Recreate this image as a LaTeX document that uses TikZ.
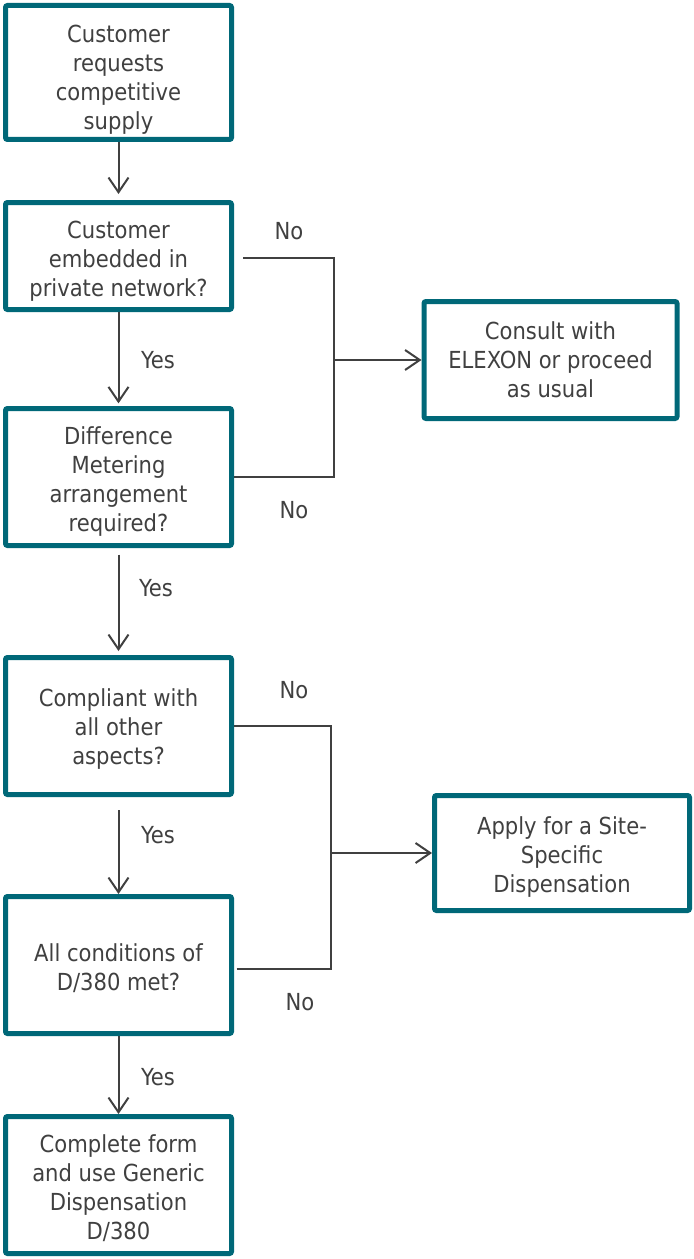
\documentclass[tikz,border=0pt]{standalone}
\usepackage{fontspec}
\setmainfont{DejaVu Sans Condensed}
\usetikzlibrary{arrows.meta}
\definecolor{boxteal}{HTML}{006878}
\definecolor{inkgray}{HTML}{404040}
\newcommand{\toppad}[1][18pt]{\rule{0pt}{#1}}
\begin{document}
\begin{tikzpicture}[x=0.75pt,y=-0.75pt,
    font=\fontsize{17.6pt}{21.75pt}\selectfont, text=inkgray,
    flowbox/.style={draw=boxteal, line width=3.75pt, rounded corners=1.5pt,
      align=center, inner sep=2pt, minimum width=169.5pt, minimum height=102.75pt},
    conn/.style={draw=inkgray, line width=1.5pt},
    arr/.style={conn, -{Straight Barb[length=11pt,width=15pt,line width=1.5pt]}}]
%	% Canvas
	\useasboundingbox (0,0) rectangle (693,1259);
%	% Main column
	\node[flowbox, minimum height=100.5pt] (b1) at (118.5,72.5) {\toppad[23.5pt]Customer\\requests\\competitive\\supply};
	\node[flowbox, minimum height=80.25pt] (b2) at (118.5,256) {\toppad[20.5pt]Customer\\embedded in\\private network?};
	\node[flowbox] (b3) at (118.5,477) {\toppad[20.5pt]Difference\\Metering\\arrangement\\required?};
	\node[flowbox] (b4) at (118.5,726) {\toppad[17.5pt]Compliant with\\all other\\aspects?};
	\node[flowbox] (b5) at (118.5,965) {\toppad All conditions of\\D/380 met?};
	\node[flowbox] (b6) at (118.5,1185) {\toppad Complete form\\and use Generic\\Dispensation\\D/380};
%	% Side boxes
	\node[flowbox, minimum width=189.75pt, minimum height=87.75pt] (r1) at (550.5,360) {Consult with\\ELEXON or proceed\\as usual};
	\node[flowbox, minimum width=191.25pt, minimum height=86.25pt] (r2) at (562,853) {\toppad[19.5pt]Apply for a Site-\\Specific\\Dispensation};
%	% Downward arrows
	\draw[arr, shorten >=4.5pt] (b1) -- (b2);
	\draw[arr, shorten >=2pt] (b2) -- (b3);
	\draw[arr, shorten <=5pt, shorten >=3pt] (b3) -- (b4);
	\draw[arr, shorten <=10pt] (b4) -- (b5);
	\draw[arr] (b5) -- (b6);
	\node (y1) at (158,360) {Yes};
	\node (y2) at (156,588) {Yes};
	\node (y3) at (158,835) {Yes};
	\node (y4) at (158,1077) {Yes};
%	% No branches
	\coordinate (j1) at (334,360);
	\coordinate (j2) at (331,853);
	\draw[conn] ([xshift=7pt]b2.east |- 0,258) -| (j1);
	\draw[conn] (b3.east) -| (j1);
	\draw[arr] (j1) -- (r1);
	\draw[conn] (b4.east) -| (j2);
	\draw[conn] ([xshift=2pt]b5.east |- 0,969) -| (j2);
	\draw[arr] (j2) -- (r2);
	\node (n1) at (289,231) {No};
	\node (n2) at (294,510) {No};
	\node (n3) at (294,690) {No};
	\node (n4) at (300,1002) {No};
\end{tikzpicture}
\end{document}
